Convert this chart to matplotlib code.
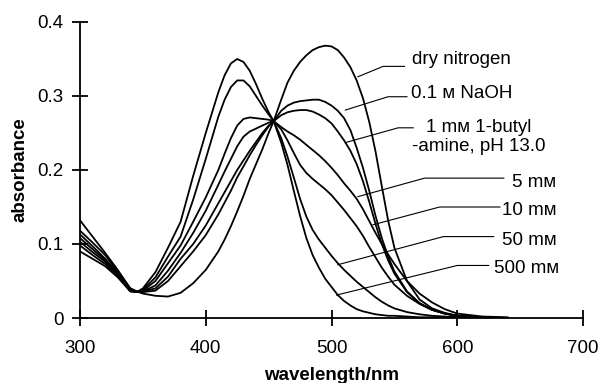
import numpy as np
import matplotlib
matplotlib.use('Agg')
import matplotlib.pyplot as plt

plt.rcParams['font.family'] = ['Liberation Sans', 'DejaVu Sans']
plt.rcParams['font.size'] = 13.5

wavelength = [300, 310, 320, 330, 340, 345, 350, 360, 370, 380, 390, 400, 410, 415, 420, 425,
              430, 435, 440, 445, 450, 454, 460, 465, 470, 475, 480, 485, 490, 495, 500, 505,
              510, 515, 520, 525, 530, 535, 540, 545, 550, 560, 570, 580, 590, 600, 620, 640]

dry_nitrogen = [0.118, 0.102, 0.085, 0.062, 0.040, 0.036, 0.033, 0.030, 0.029, 0.034, 0.047, 0.065,
                0.090, 0.106, 0.124, 0.144, 0.165, 0.188, 0.208, 0.228, 0.250, 0.266, 0.295, 0.318,
                0.334, 0.346, 0.355, 0.362, 0.366, 0.368, 0.367, 0.362, 0.352, 0.339, 0.321, 0.297,
                0.265, 0.225, 0.178, 0.132, 0.095, 0.050, 0.025, 0.013, 0.007, 0.003, 0.001, 0.0]
naoh = [0.090, 0.080, 0.070, 0.055, 0.036, 0.035, 0.035, 0.037, 0.050, 0.070, 0.090, 0.112,
        0.140, 0.156, 0.172, 0.190, 0.205, 0.220, 0.234, 0.247, 0.259, 0.266, 0.280, 0.287,
        0.291, 0.293, 0.294, 0.295, 0.295, 0.292, 0.287, 0.280, 0.270, 0.254, 0.230, 0.203,
        0.172, 0.138, 0.108, 0.083, 0.063, 0.036, 0.020, 0.011, 0.006, 0.003, 0.001, 0.0]
butylamine_1mm = [0.132, 0.110, 0.088, 0.065, 0.040, 0.036, 0.036, 0.040, 0.056, 0.080, 0.100, 0.125,
                  0.155, 0.170, 0.185, 0.200, 0.213, 0.226, 0.238, 0.250, 0.260, 0.266, 0.274, 0.278,
                  0.280, 0.281, 0.281, 0.279, 0.275, 0.270, 0.263, 0.252, 0.240, 0.226, 0.208, 0.185,
                  0.157, 0.127, 0.100, 0.078, 0.060, 0.035, 0.020, 0.011, 0.006, 0.003, 0.001, 0.0]
butylamine_5mm = [0.098, 0.085, 0.073, 0.057, 0.036, 0.035, 0.036, 0.044, 0.064, 0.088, 0.115, 0.145,
                  0.180, 0.198, 0.215, 0.232, 0.245, 0.252, 0.256, 0.260, 0.264, 0.266, 0.258, 0.252,
                  0.247, 0.241, 0.234, 0.227, 0.220, 0.212, 0.203, 0.193, 0.182, 0.172, 0.161, 0.147,
                  0.131, 0.115, 0.100, 0.086, 0.073, 0.050, 0.033, 0.021, 0.012, 0.006, 0.002, 0.001]
butylamine_10mm = [0.103, 0.089, 0.076, 0.058, 0.037, 0.035, 0.037, 0.050, 0.074, 0.098, 0.130, 0.163,
                   0.200, 0.222, 0.243, 0.260, 0.269, 0.271, 0.270, 0.269, 0.268, 0.266, 0.255, 0.240,
                   0.223, 0.207, 0.196, 0.188, 0.181, 0.174, 0.166, 0.156, 0.146, 0.135, 0.124, 0.111,
                   0.096, 0.082, 0.068, 0.056, 0.045, 0.030, 0.019, 0.011, 0.006, 0.003, 0.001, 0.0]
butylamine_50mm = [0.108, 0.093, 0.078, 0.059, 0.037, 0.035, 0.038, 0.055, 0.083, 0.110, 0.160, 0.215,
                   0.272, 0.295, 0.312, 0.321, 0.321, 0.313, 0.300, 0.287, 0.275, 0.266, 0.243, 0.218,
                   0.190, 0.161, 0.137, 0.119, 0.106, 0.095, 0.084, 0.074, 0.065, 0.057, 0.049, 0.042,
                   0.035, 0.028, 0.022, 0.017, 0.013, 0.008, 0.005, 0.003, 0.002, 0.001, 0.0, 0.0]
butylamine_500mm = [0.113, 0.097, 0.080, 0.060, 0.038, 0.035, 0.040, 0.062, 0.095, 0.130, 0.192, 0.250,
                    0.305, 0.328, 0.344, 0.350, 0.346, 0.334, 0.316, 0.296, 0.278, 0.266, 0.237, 0.207,
                    0.172, 0.138, 0.108, 0.085, 0.068, 0.053, 0.042, 0.031, 0.023, 0.017, 0.012, 0.009,
                    0.007, 0.005, 0.004, 0.003, 0.003, 0.002, 0.001, 0.001, 0.001, 0.001, 0.0, 0.0]

spectra = [dry_nitrogen, naoh, butylamine_1mm, butylamine_5mm,
           butylamine_10mm, butylamine_50mm, butylamine_500mm]

labels = ['dry nitrogen', '0.1 \u1d0d NaOH', '1 m\u1d0d 1-butyl\n-amine, pH 13.0',
          '5 m\u1d0d', '10 m\u1d0d', '50 m\u1d0d', '500 m\u1d0d']

# leader lines (data coords): curve point, bend, end; then text anchor
leaders = [
    ([521, 541, 558], [0.326, 0.340, 0.340], (564, 0.349, 'left')),
    ([511, 545, 560], [0.281, 0.299, 0.299], (563, 0.303, 'left')),
    ([511, 553, 565], [0.237, 0.257, 0.257], (617, 0.244, 'center')),
    ([521, 574, 637], [0.164, 0.189, 0.189], (679, 0.183, 'right')),
    ([533, 586, 634], [0.126, 0.150, 0.150], (679, 0.145, 'right')),
    ([505, 589, 629], [0.072, 0.110, 0.110], (679, 0.105, 'right')),
    ([504, 600, 625], [0.031, 0.071, 0.071], (681, 0.067, 'right')),
]

fig = plt.figure(figsize=(6.01, 3.83), dpi=100)
ax = fig.add_axes([0.1331, 0.1697, 0.837, 0.7729])

for s in spectra:
    ax.plot(wavelength, s, color='black', lw=1.3)

for (xs, ys, (tx, ty, ha)), lab in zip(leaders, labels):
    ax.plot(xs, ys, color='black', lw=0.8)
    ax.text(tx, ty, lab, ha=ha, va='center', linespacing=1.15, multialignment='center')

ax.set_xlim(300, 700)
ax.set_ylim(0, 0.4)
ax.set_xticks([300, 400, 500, 600, 700])
ax.set_yticks([0, 0.1, 0.2, 0.3, 0.4])
ax.set_yticklabels(['0', '0.1', '0.2', '0.3', '0.4'])
for side in ['top', 'right']:
    ax.spines[side].set_visible(False)
for side in ['left', 'bottom']:
    ax.spines[side].set_linewidth(1.3)
ax.tick_params(direction='inout', length=12, width=1.3)
ax.tick_params(axis='x', pad=10)
ax.tick_params(axis='y', pad=6)
ax.set_xlabel('wavelength/nm', fontweight='bold', labelpad=7)
ax.set_ylabel('absorbance', fontweight='bold', labelpad=6)

fig.savefig('out.png', dpi=100)
